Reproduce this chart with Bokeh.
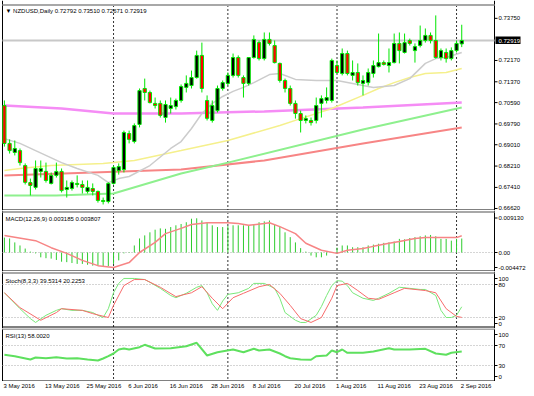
import pandas as pd
from bokeh.plotting import figure
from bokeh.layouts import column
from bokeh.models import Range1d
from bokeh.embed import file_html
from bokeh.resources import INLINE
from bokeh.core.properties import value

FONT = "Liberation Sans"
FS = "6px"

dates = pd.bdate_range("2016-05-03", "2016-09-02")

opens = [0.7048,0.6906,0.6872,0.6879,0.6823,0.6759,0.6741,0.6801,0.6801,0.6756,
         0.6786,0.6801,0.6733,0.6737,0.6756,0.6752,0.6726,0.6737,0.6726,0.6692,
         0.6688,0.6756,0.6804,0.6808,0.6943,0.6913,0.6977,0.7112,0.7097,0.7056,
         0.7056,0.7003,0.7037,0.7044,0.7067,0.7116,0.7123,0.7153,0.7236,0.7067,
         0.6992,0.7029,0.7112,0.7131,0.7161,0.7228,0.7153,0.7131,0.7228,0.7284,
         0.7224,0.7296,0.7273,0.7206,0.7142,0.7112,0.7056,0.7018,0.6992,0.6992,
         0.6992,0.7056,0.7067,0.7067,0.7198,0.7168,0.7243,0.7161,0.7172,0.7131,
         0.7134,0.7168,0.7194,0.7209,0.7198,0.7209,0.7281,0.7247,0.7292,0.7254,
         0.7273,0.7292,0.7311,0.7292,0.7228,0.7247,0.7224,0.7254,0.72792]
highs = [0.7067,0.6921,0.6917,0.6887,0.6831,0.6774,0.6842,0.6842,0.6834,0.6797,
         0.6834,0.6812,0.6767,0.6767,0.6786,0.6767,0.6767,0.6756,0.6729,0.6703,
         0.6760,0.6823,0.6831,0.6954,0.6954,0.6981,0.7112,0.7149,0.7104,0.7078,
         0.7067,0.7067,0.7078,0.7074,0.7127,0.7161,0.7179,0.7254,0.7284,0.7086,
         0.7067,0.7123,0.7142,0.7172,0.7243,0.7236,0.7161,0.7228,0.7311,0.7292,
         0.7322,0.7322,0.7292,0.7209,0.7149,0.7123,0.7067,0.7029,0.7011,0.7003,
         0.7078,0.7086,0.7116,0.7224,0.7217,0.7262,0.7254,0.7217,0.7206,0.7161,
         0.7187,0.7217,0.7318,0.7217,0.7262,0.7318,0.7322,0.7318,0.7299,0.7281,
         0.7348,0.7337,0.7322,0.7386,0.7262,0.7262,0.7266,0.7292,0.73510]
lows = [0.6894,0.6868,0.6861,0.6823,0.6752,0.6711,0.6733,0.6778,0.6759,0.6752,
        0.6778,0.6722,0.6703,0.6729,0.6741,0.6718,0.6718,0.6711,0.6684,0.6677,
        0.6681,0.6752,0.6789,0.6797,0.6906,0.6906,0.6966,0.7067,0.7056,0.7037,
        0.7003,0.6984,0.7018,0.7033,0.7059,0.7097,0.7112,0.7149,0.7097,0.6992,
        0.6984,0.7022,0.7104,0.7123,0.7153,0.7153,0.7078,0.7123,0.7224,0.7217,
        0.7217,0.7273,0.7206,0.7134,0.7097,0.7048,0.6999,0.6947,0.6981,0.6973,
        0.6981,0.7003,0.7056,0.7059,0.7168,0.7161,0.7161,0.7142,0.7123,0.7086,
        0.7123,0.7153,0.7191,0.7198,0.7172,0.7206,0.7206,0.7243,0.7273,0.7209,
        0.7266,0.7284,0.7281,0.7224,0.7217,0.7209,0.7217,0.7247,0.72671]
closes = [0.6906,0.6879,0.6887,0.6834,0.6760,0.6748,0.6812,0.6812,0.6767,0.6786,
          0.6801,0.6729,0.6741,0.6759,0.6752,0.6741,0.6741,0.6726,0.6692,0.6688,
          0.6756,0.6816,0.6819,0.6947,0.6921,0.6973,0.7104,0.7097,0.7059,0.7048,
          0.7011,0.7052,0.7048,0.7067,0.7119,0.7131,0.7153,0.7236,0.7112,0.7000,
          0.7048,0.7112,0.7134,0.7161,0.7228,0.7161,0.7131,0.7228,0.7296,0.7224,
          0.7296,0.7281,0.7209,0.7142,0.7112,0.7056,0.7018,0.6992,0.6999,0.6984,
          0.7048,0.7074,0.7078,0.7217,0.7172,0.7243,0.7168,0.7172,0.7134,0.7142,
          0.7172,0.7198,0.7209,0.7202,0.7209,0.7281,0.7254,0.7284,0.7281,0.7269,
          0.7292,0.7311,0.7292,0.7228,0.7254,0.7224,0.7254,0.7281,0.72919]

# moving averages (bar index, price)
ma_grey_x = [0,3,6,11,14,18,20,22,24,28,32,34,36,38,40,42,44,46,48,51,53,56,60,64,68,71,75,78,81,83,85,88]
ma_grey_y = [0.6924,0.6906,0.6879,0.6834,0.6812,0.6786,0.6759,0.6774,0.6782,0.6823,0.6887,0.6913,
             0.6962,0.7018,0.7056,0.7082,0.7101,0.7116,0.7134,0.7164,0.7168,0.7146,0.7142,0.7142,
             0.7127,0.7116,0.7123,0.7149,0.7206,0.7224,0.7228,0.7247]
ma_yellow_x = [0,3,9,19,25,34,43,53,57,63,69,72,75,78,81,85,88]
ma_yellow_y = [0.6804,0.6812,0.6823,0.6831,0.6842,0.6879,0.6917,0.6973,0.6999,0.7037,0.7086,
               0.7112,0.7134,0.7153,0.7168,0.7172,0.7187]
ma_pink_x = [0,11,21,34,50,69,88]
ma_pink_y = [0.7048,0.7037,0.7018,0.7018,0.7026,0.7041,0.7059]
ma_red_x = [0,34,50,69,88]
ma_red_y = [0.6786,0.6808,0.6842,0.6906,0.6966]
ma_green_x = [0,10,21,34,43,69,88]
ma_green_y = [0.6711,0.6711,0.6718,0.6793,0.6834,0.6958,0.7041]

macd_hist = [0.0034,0.0032,0.0023,0.0016,0.0009,0.0002,-0.0002,-0.0011,-0.0013,-0.0014,
             -0.0017,-0.0021,-0.0022,-0.0024,-0.0026,-0.0026,-0.0028,-0.0030,-0.0030,-0.0031,
             -0.0031,-0.0026,-0.0018,-0.0002,0.0001,0.0016,0.0032,0.0039,0.0046,0.0052,
             0.0055,0.0054,0.0058,0.0062,0.0065,0.0069,0.0077,0.0078,0.0073,0.0069,
             0.0062,0.0058,0.0058,0.0060,0.0062,0.0062,0.0062,0.0062,0.0065,0.0069,
             0.0071,0.0073,0.0065,0.0058,0.0046,0.0035,0.0023,0.0010,0.0002,-0.0007,
             -0.0011,-0.0011,-0.0007,0.0001,0.0011,0.0016,0.0016,0.0012,0.0012,0.0012,
             0.0016,0.0018,0.0020,0.0022,0.0023,0.0025,0.0031,0.0030,0.0033,0.0035,
             0.0037,0.0039,0.0040,0.0037,0.0031,0.0031,0.0027,0.0031,0.003185]
macd_sig_x = [0,6,9,12,15,18,21,24,26,29,31,34,36,39,43,45,47,50,51,53,56,58,61,64,66,69,71,74,76,79,81,84,87,88]
macd_sig_y = [0.0039,0.0027,0.0011,-0.0002,-0.0018,-0.0030,-0.0034,-0.0023,0.0000,0.0023,0.0043,0.0055,
              0.0064,0.0068,0.0068,0.0066,0.0062,0.0066,0.0068,0.0059,0.0043,0.0021,0.0005,-0.0002,
              0.0005,0.0009,0.0014,0.0021,0.0025,0.0032,0.0034,0.0034,0.0034,0.003807]

stoch_k_x = [0,3,5,6,8,10,11,13,15,17,18,19,20,21,22,23,25,27,28,30,32,33,35,37,38,39,40,41,42,43,45,47,48,50,
             52,53,54,56,57,58,60,61,62,63,64,65,66,67,69,71,72,74,76,78,80,81,83,84,85,86,87,88]
stoch_k_y = [65,36,18,11,24,33,36,33,33,29,24,20,36,65,82,91,91,89,84,73,60,56,64,75,78,65,45,33,50,62,65,73,82,82,
             73,55,29,15,11,11,24,40,60,78,87,86,78,65,55,51,55,64,75,73,71,71,60,33,20,20,24,39.5]
stoch_d_x = [0,3,7,10,11,15,17,20,21,23,25,27,30,33,36,38,40,42,44,46,49,51,53,55,57,59,61,63,64,66,68,70,72,
             75,77,81,83,85,87,88]
stoch_d_y = [65,38,15,29,36,33,27,20,42,78,89,89,75,58,65,76,55,36,56,64,76,80,64,42,18,11,20,55,78,82,69,55,53,
             65,73,69,65,36,22,20.2]

rsi_x = [0,2,5,6,8,10,12,14,16,18,19,20,21,22,23,24,26,27,29,32,35,37,39,41,44,46,48,49,51,53,54,55,57,59,60,
         62,63,64,65,66,69,71,74,75,78,81,83,85,86,88]
rsi_y = [51.4,48.6,42,46,44.6,46.6,44,44.6,42,40,44,48.6,54,62,64,62,66.6,71.4,64,64.6,68.6,75.4,50,56.6,62,
         56.6,63.4,60,62,54,48.6,44.6,42,41.4,48.6,50,60,56.6,62,55.4,55.4,58,64.6,62,62,63.4,54,51.4,55.4,58.0]

price_ticks = [0.7375, 0.7217, 0.7137, 0.7059, 0.6979, 0.6901, 0.6821, 0.6741, 0.6662]
date_every = 8

n = len(closes)
idx = list(range(n))
month_starts = [i for i in range(1, n) if dates[i].month != dates[i - 1].month]

# ---- layout geometry (pixels -> bar index) ----
W = 534
BAR = 5.197
X0 = 3.9


def px2i(px):
    return (px - X0) / BAR


xr = Range1d(px2i(0), px2i(W))
LEFT = px2i(2)
AXIS = px2i(494)
TICKX = px2i(497)
LABX = px2i(498)
TXTX = px2i(5)


def make_panel(fig_top, fig_h, vfun, c_top, c_bot):
    yr = Range1d(vfun(fig_top + fig_h), vfun(fig_top))
    p = figure(width=W, height=fig_h, x_range=xr, y_range=yr, x_axis_location=None,
               y_axis_location=None, toolbar_location=None, output_backend="svg",
               min_border=0, outline_line_color=None, background_fill_color="white",
               border_fill_color="white")
    p.grid.visible = False
    k = len(month_starts)
    p.segment(x0=month_starts, x1=month_starts, y0=[vfun(c_top)] * k, y1=[vfun(c_bot)] * k,
              line_color="#333333", line_dash="2 2", line_width=1)
    p.segment(x0=[LEFT, AXIS], x1=[LEFT, AXIS], y0=[vfun(fig_top + fig_h)] * 2,
              y1=[vfun(fig_top)] * 2, line_color="#000000", line_width=1)
    p.segment(x0=[LEFT], x1=[AXIS], y0=[vfun(c_top)], y1=[vfun(c_top)],
              line_color="#a8a8a8", line_width=2)
    p.segment(x0=[LEFT], x1=[AXIS], y0=[vfun(c_bot)], y1=[vfun(c_bot)],
              line_color="#000000", line_width=1)
    return p


def right_labels(p, vals, texts):
    m = len(vals)
    p.segment(x0=[AXIS] * m, x1=[TICKX] * m, y0=vals, y1=vals, line_color="#000000", line_width=1)
    p.text(x=[LABX] * m, y=vals, text=texts, text_font=value(FONT), text_font_size=FS,
           text_color="#000000", text_align="left", text_baseline="middle")


def panel_title(p, y, txt):
    p.text(x=[TXTX], y=[y], text=[txt], text_font=value(FONT), text_font_size=FS,
           text_color="#000000", text_align="left", text_baseline="middle")


# ---------------- main price panel ----------------
PXM = 0.000375


def v_main(y):
    return 0.74419 - PXM * y


pm = make_panel(0, 210, v_main, 4.5, 209.5)
pm.segment(x0=[LEFT], x1=[AXIS], y0=[closes[-1]], y1=[closes[-1]], line_color="#c8c8c8", line_width=2)
pm.line(ma_pink_x, ma_pink_y, line_color="#f58cf5", line_width=2.5)
pm.line(ma_red_x, ma_red_y, line_color="#f78585", line_width=2)
pm.line(ma_green_x, ma_green_y, line_color="#8ef08e", line_width=2)
pm.line(ma_yellow_x, ma_yellow_y, line_color="#f5f08c", line_width=1.5)
pm.line(ma_grey_x, ma_grey_y, line_color="#cccccc", line_width=1.5)

pm.segment(x0=idx, y0=lows, x1=idx, y1=highs, line_color="#00e600", line_width=1)
pm.vbar(x=idx, width=0.62, top=[max(o, c) for o, c in zip(opens, closes)],
        bottom=[min(o, c) for o, c in zip(opens, closes)],
        fill_color=["#000000" if c >= o else "#ff0000" for o, c in zip(opens, closes)],
        line_color="#00e600", line_width=1)

right_labels(pm, price_ticks, ["%.5f" % t for t in price_ticks])
title_txt = "\u25bc NZDUSD,Daily  %.5f %.5f %.5f %.5f" % (opens[-1], highs[-1], lows[-1], closes[-1])
panel_title(pm, v_main(10), title_txt)
pm.quad(left=[px2i(495)], right=[px2i(520)], top=[closes[-1] + 4 * PXM],
        bottom=[closes[-1] - 3.5 * PXM], fill_color="#000000", line_color=None)
pm.text(x=[LABX], y=[closes[-1]], text=["%.5f" % closes[-1]], text_font=value(FONT),
        text_font_size=FS, text_color="#ffffff", text_align="left", text_baseline="middle")

# ---------------- MACD ----------------


def v_macd(y):
    return (252 - y) * 0.000228


pmacd = make_panel(210, 61, v_macd, 211.5, 270.5)
pmacd.segment(x0=[LEFT], x1=[AXIS], y0=[0], y1=[0], line_color="#aaaaaa", line_dash="1 2")
pmacd.segment(x0=idx, y0=[0] * n, x1=idx, y1=macd_hist, line_color="#2ecc2e", line_width=1)
pmacd.line(macd_sig_x, macd_sig_y, line_color="#f78585", line_width=1.5)
right_labels(pmacd, [v_macd(217.5), 0.0, v_macd(267)], ["0.009130", "0.00", "-0.004472"])
panel_title(pmacd, v_macd(218), "MACD(12,26,9) %.6f %.6f" % (macd_hist[-1], macd_sig_y[-1]))

# ---------------- Stochastic ----------------


def v_sto(y):
    return (328 - y) / 0.55


pst = make_panel(271, 57, v_sto, 272.5, 326.5)
pst.segment(x0=[LEFT, LEFT], x1=[AXIS, AXIS], y0=[80, 20], y1=[80, 20],
            line_color="#aaaaaa", line_dash="1 2")
pst.line(stoch_k_x, stoch_k_y, line_color="#7ae87a", line_width=1)
pst.line(stoch_d_x, stoch_d_y, line_color="#f76b6b", line_width=1)
right_labels(pst, [v_sto(278), 80, 20, v_sto(323)], ["100", "80", "20", "0"])
panel_title(pst, v_sto(280), "Stoch(8,3,3) 39.5314 20.2253")

# ---------------- RSI ----------------


def v_rsi(y):
    return 70 - (y - 345) * 2


prsi = make_panel(328, 53, v_rsi, 328.5, 380.5)
prsi.segment(x0=[LEFT, LEFT], x1=[AXIS, AXIS], y0=[70, 30], y1=[70, 30],
             line_color="#aaaaaa", line_dash="1 2")
prsi.line(rsi_x, rsi_y, line_color="#5ee05e", line_width=2)
right_labels(prsi, [v_rsi(334), 70, 30, v_rsi(376)], ["100", "70", "30", "0"])
panel_title(prsi, v_rsi(335), "RSI(13) 58.0020")

# ---------------- date scale ----------------
pdt = figure(width=W, height=15, x_range=xr, y_range=Range1d(0, 15),
             x_axis_location=None, y_axis_location=None, toolbar_location=None,
             output_backend="svg", min_border=0, outline_line_color=None)
pdt.grid.visible = False
tick_idx = idx[::date_every]
tick_txt = ["%d %s %d" % (dates[i].day, dates[i].strftime("%b"), dates[i].year) for i in tick_idx]
pdt.text(x=tick_idx, y=[11] * len(tick_idx), text=tick_txt, x_offset=-1,
         text_font=value(FONT), text_font_size=FS, text_color="#000000",
         text_align="left", text_baseline="middle")

layout = column(pm, pmacd, pst, prsi, pdt, spacing=0,
                styles={"position": "absolute", "left": "0px", "top": "0px"})
open("out.html", "w").write(file_html(layout, INLINE))
